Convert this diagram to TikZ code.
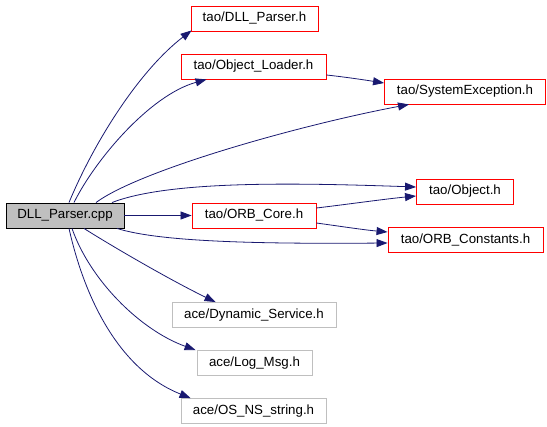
\documentclass[tikz,border=0pt]{standalone}
\usepackage{fontspec}
\setmainfont{Liberation Sans}
\usetikzlibrary{arrows.meta}
\definecolor{edgeblue}{HTML}{191970}
\definecolor{boxgray}{HTML}{BFBFBF}
\tikzset{
  box/.style={draw, line width=0.9pt, inner sep=0pt, minimum height=25pt, font=\fontsize{13.3}{15}\selectfont},
  redbox/.style={box, draw=red},
  graybox/.style={box, draw=boxgray},
  mainbox/.style={box, draw=black, fill=boxgray},
  dep/.style={draw=edgeblue, line width=0.8pt, -{Triangle[length=11pt,width=8pt]}, fill=none},
}
\begin{document}
\begin{tikzpicture}[x=1pt,y=-1pt]
\useasboundingbox (0,0) rectangle (547,427);
\node[mainbox, minimum width=118pt] (cpp) at (65,215.5) {DLL\_Parser.cpp};
\node[redbox, minimum width=127pt] (dllh) at (254.5,18.5) {tao/DLL\_Parser.h};
\node[redbox, minimum width=145pt] (objl) at (253.5,66.5) {tao/Object\_Loader.h};
\node[redbox, minimum width=161pt] (sysex) at (465,91.5) {tao/SystemException.h};
\node[redbox, minimum width=97pt] (objh) at (465,191.5) {tao/Object.h};
\node[redbox, minimum width=124pt] (orbc) at (254,215.5) {tao/ORB\_Core.h};
\node[redbox, minimum width=155pt] (orbk) at (465.5,240) {tao/ORB\_Constants.h};
\node[graybox, minimum width=164pt] (dyn) at (254,315) {ace/Dynamic\_Service.h};
\node[graybox, minimum width=115pt] (log) at (254.5,363) {ace/Log\_Msg.h};
\node[graybox, minimum width=145pt] (osns) at (253.5,411) {ace/OS\_NS\_string.h};

\draw[dep] ([xshift=4pt]cpp.north) .. controls (95,140) and (140,70) .. ([xshift=1pt,yshift=1pt]dllh.south west);
\draw[dep] ([xshift=9pt]cpp.north) .. controls (95,160) and (150,95) .. ([xshift=26pt]objl.south west);
\draw[dep] ([xshift=31pt]cpp.north) .. controls (140,170) and (300,125) .. ([xshift=25pt]sysex.south west);
\draw[dep] ([xshift=47pt]cpp.north) .. controls (170,180) and (300,183) .. ([yshift=4.5pt]objh.west);
\draw[dep] (cpp.east) -- (orbc.west);
\draw[dep] ([xshift=52pt]cpp.south) .. controls (160,242) and (260,244) .. ([yshift=-3pt]orbk.west);
\draw[dep] ([yshift=7.5pt]orbc.east) .. controls (350,204) and (385,199) .. ([yshift=-4.5pt]objh.west);
\draw[dep] ([yshift=-7.5pt]orbc.east) .. controls (345,227) and (365,230) .. ([yshift=8pt]orbk.west);
\draw[dep] ([yshift=-8.5pt]objl.east) .. controls (345,77) and (365,80) .. ([yshift=8.5pt]sysex.west);
\draw[dep] ([xshift=19pt]cpp.south) .. controls (110,245) and (170,280) .. ([xshift=44pt]dyn.north west);
\draw[dep] ([xshift=7pt]cpp.south) .. controls (90,280) and (140,330) .. ([xshift=-1pt]log.north west);
\draw[dep] ([xshift=4pt]cpp.south) .. controls (85,300) and (120,370) .. ([xshift=10pt]osns.north west);
\end{tikzpicture}
\end{document}
